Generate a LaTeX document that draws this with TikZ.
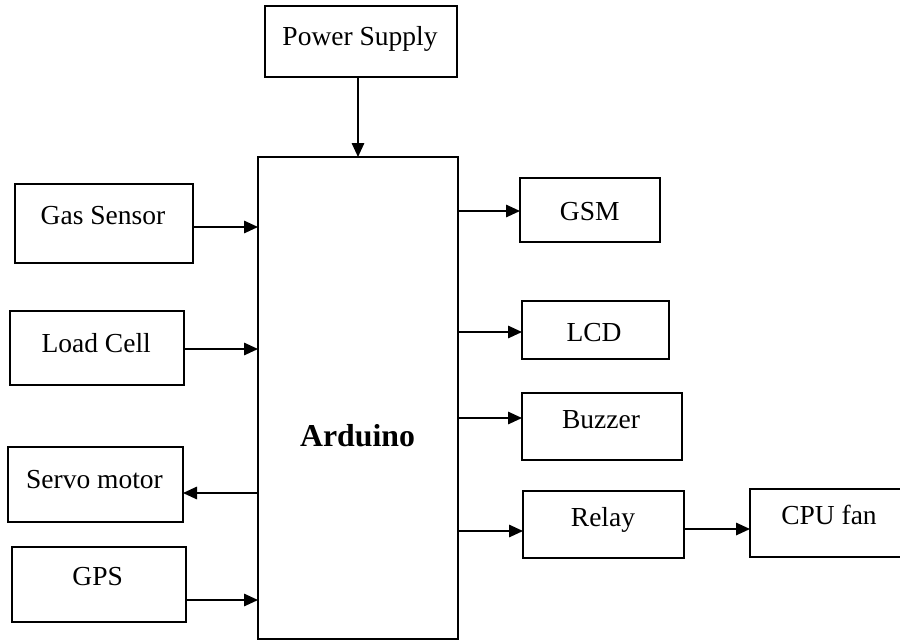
\documentclass[tikz,border=0pt]{standalone}
\usepackage{fontspec}
\setmainfont{Liberation Serif}
\usetikzlibrary{arrows.meta}
\begin{document}
\begin{tikzpicture}[x=1pt,y=-1pt,
  box/.style={draw=black,line width=1.6pt,inner sep=0pt,outer sep=0pt,fill=none},
  lbl/.style={anchor=base,inner sep=0pt,font=\fontsize{27.5}{30}\selectfont},
  arr/.style={line width=1.6pt,-{Triangle[length=14pt,width=12.5pt]}}]
\useasboundingbox (0,0) rectangle (900,641);
\clip (0,0) rectangle (900,641);
% boxes
\node[box,minimum width=192pt,minimum height=71pt] (ps) at (361,41.5) {};
\node[box,minimum width=200pt,minimum height=482pt] (ard) at (358,398) {};
\node[box,minimum width=178pt,minimum height=79pt] (gas) at (104,223.5) {};
\node[box,minimum width=174pt,minimum height=74pt] (load) at (97,348) {};
\node[box,minimum width=175pt,minimum height=75pt] (servo) at (95.5,484.5) {};
\node[box,minimum width=174pt,minimum height=75pt] (gps) at (99,584.5) {};
\node[box,minimum width=140pt,minimum height=64pt] (gsm) at (590,210) {};
\node[box,minimum width=147pt,minimum height=58pt] (lcd) at (595.5,330) {};
\node[box,minimum width=160pt,minimum height=67pt] (buzz) at (602,426.5) {};
\node[box,minimum width=161pt,minimum height=67pt] (relay) at (603.5,524.5) {};
\node[box,minimum width=170pt,minimum height=68pt] (cpu) at (835,523) {};
% labels
\node[lbl] (tps) at (360,45) {Power Supply};
\node[anchor=base,inner sep=0pt,font=\fontsize{31.8}{34}\selectfont\bfseries] (tard) at (357.5,446.5) {Arduino};
\node[lbl] (tgas) at (103,224) {Gas Sensor};
\node[lbl] (tload) at (96.2,352.3) {Load Cell};
\node[lbl] (tservo) at (94.5,488) {Servo motor};
\node[lbl] (tgps) at (97.7,585) {GPS};
\node[lbl] (tgsm) at (589.7,220) {GSM};
\node[lbl] (tlcd) at (594,341.7) {LCD};
\node[lbl] (tbuzz) at (601,428) {Buzzer};
\node[lbl] (trelay) at (603,526.7) {Relay};
\node[lbl] (tcpu) at (829,524) {CPU fan};
% helper levels
\coordinate (ygas) at (0,227);
\coordinate (yload) at (0,349);
\coordinate (yservo) at (0,493);
\coordinate (ygps) at (0,600);
\coordinate (ygsm) at (0,211);
\coordinate (ylcd) at (0,332);
\coordinate (ybuzz) at (0,418);
\coordinate (yrelay) at (0,531);
\coordinate (ycpu) at (0,529);
\coordinate (xps) at (358,0);
% connectors
\draw[arr] (ps.south -| xps) -- (ard.north -| xps);
\draw[arr] (gas.east |- ygas) -- (ard.west |- ygas);
\draw[arr] (load.east |- yload) -- (ard.west |- yload);
\draw[arr] (ard.west |- yservo) -- (servo.east |- yservo);
\draw[arr] (gps.east |- ygps) -- (ard.west |- ygps);
\draw[arr] (ard.east |- ygsm) -- (gsm.west |- ygsm);
\draw[arr] (ard.east |- ylcd) -- (lcd.west |- ylcd);
\draw[arr] (ard.east |- ybuzz) -- (buzz.west |- ybuzz);
\draw[arr] (ard.east |- yrelay) -- (relay.west |- yrelay);
\draw[arr] (relay.east |- ycpu) -- (cpu.west |- ycpu);
\end{tikzpicture}
\end{document}
